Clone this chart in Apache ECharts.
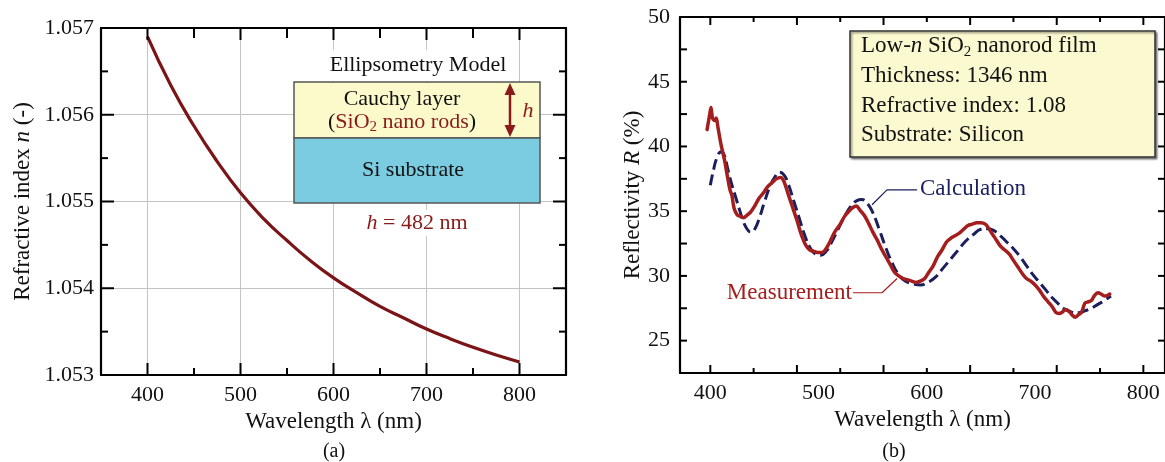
<!DOCTYPE html>
<html>
<head>
<meta charset="utf-8">
<script src="https://cdn.jsdelivr.net/npm/echarts@6/dist/echarts.min.js"></script>
<style>
  html, body { margin: 0; padding: 0; background: #fff; }
  #main { width: 1165px; height: 462px; }
</style>
</head>
<body>
<div id="main"></div>
<script>
// (a) refractive index vs wavelength
const nWavelength = [400, 425, 450, 475, 500, 525, 550, 575, 600, 625, 650, 675, 700, 725, 750, 775, 800];
const nIndex = [1.05690, 1.05634, 1.05587, 1.05546, 1.05510, 1.05480, 1.05455, 1.05432, 1.05412,
  1.05395, 1.05379, 1.05366, 1.05353, 1.05342, 1.05332, 1.05323, 1.05315];

// (b) reflectivity, calculation (dashed)
const calcWavelength = [400, 403, 406, 410, 413, 416, 419, 423, 427, 431, 435, 438, 441, 445, 450, 455, 460, 464,
  468, 472, 477, 482, 487, 492, 497, 502, 507, 512, 518, 524, 530, 535, 540, 545, 550, 556, 562, 568, 574, 580,
  587, 594, 601, 608, 615, 622, 629, 636, 643, 650, 656, 662, 668, 674, 680, 686, 692, 698, 704, 710, 716, 722,
  728, 734, 740, 746, 752, 758, 764, 770];
const calcR = [37.0, 38.2, 39.1, 39.6, 39.3, 38.3, 37.3, 36.2, 35.1, 34.1, 33.5, 33.4, 33.6, 34.4, 35.7, 36.9, 37.7, 38.0,
  37.8, 37.1, 35.8, 34.5, 33.2, 32.2, 31.7, 31.6, 31.9, 32.6, 33.6, 34.6, 35.4, 35.8, 35.9, 35.6, 34.9, 33.6, 32.2, 31.0, 30.1, 29.6,
  29.4, 29.3, 29.5, 29.9, 30.6, 31.3, 32.0, 32.7, 33.2, 33.6, 33.65, 33.5, 33.1, 32.6, 32.1, 31.5, 30.8, 30.1, 29.5, 28.9, 28.3, 27.8,
  27.4, 27.2, 27.15, 27.3, 27.5, 27.8, 28.1, 28.45];

// (b) reflectivity, measurement (solid)
const measWavelength = [397, 399.5, 400.6, 402, 404, 405.5, 407, 410, 413, 416, 418, 420, 422, 425, 428, 431, 434, 437,
  441, 445, 449, 453, 457, 461, 465, 468, 472, 476, 480, 484, 488, 492, 496, 500, 503, 506, 509, 512, 515, 520,
  524, 528, 532, 535, 538, 542, 546, 550, 554, 558, 562, 566, 570, 574, 578, 582, 586, 590, 594, 598, 602, 606,
  610, 614, 618, 622, 626, 630, 634, 638, 642, 646, 650, 654, 657, 660, 664, 668, 672, 676, 680, 684, 688, 692,
  696, 700, 704, 708, 712, 716, 719, 722, 725, 728, 731, 734, 737, 740, 743, 746, 749, 752, 755, 758, 761, 764, 767, 769];
const measR = [41.3, 42.5, 43.0, 42.2, 42.0, 42.2, 41.5, 40.1, 39.0, 37.6, 36.7, 36.2, 35.2, 34.7, 34.6, 34.5, 34.7, 34.9,
  35.4, 36.0, 36.4, 36.9, 37.2, 37.5, 37.6, 37.3, 36.3, 35.3, 34.3, 33.2, 32.4, 32.0, 31.9, 31.8, 31.8, 32.0, 32.4, 32.9, 33.4, 34.0,
  34.6, 35.0, 35.3, 35.4, 35.1, 34.7, 34.1, 33.4, 32.8, 32.1, 31.5, 30.9, 30.3, 30.0, 29.8, 29.7, 29.6, 29.5, 29.6, 29.8, 30.3, 30.8,
  31.5, 32.0, 32.6, 32.9, 33.1, 33.3, 33.6, 33.9, 34.0, 34.1, 34.1, 34.0, 33.7, 33.3, 32.8, 32.3, 32.0, 31.7, 31.2, 30.7, 30.2, 29.8,
  29.6, 29.3, 28.9, 28.4, 28.0, 27.6, 27.2, 27.1, 27.2, 27.4, 27.3, 27.0, 26.8, 27.0, 27.2, 27.9, 28.0, 28.1, 28.5, 28.7, 28.6, 28.45, 28.5, 28.6];

// tick positions (the x ticks of (b) sit every 40 nm, not under the labels)
const aXMajor = [400, 500, 600, 700, 800];
const aXMinor = [450, 550, 650, 750];
const aYMajor = [1.054, 1.055, 1.056];
const aYMinor = [1.0535, 1.0545, 1.0555, 1.0565];
const bXMajor = [400, 480, 560, 640, 720, 800];
const bXMinor = [440, 520, 600, 680, 760];
const bYTicks = [25, 27.5, 30, 32.5, 35, 37.5, 40, 42.5, 45, 47.5];

// leader lines for the curve labels
const calcLeader = [[549.4, 35.5], [563.2, 36.65], [591, 36.65]];
const measLeader = [[531.8, 28.7], [558.6, 28.7], [572.5, 29.8]];

const FONT = '"Liberation Serif", "Times New Roman", serif';
const DARKRED = '#7b1416';
const RED = '#a51e1e';
const NAVY = '#1b1f5e';

const A_X = [350, 850], A_Y = [1.053, 1.057];
const B_X = [372, 820], B_Y = [22.5, 50];

function zip(xs, ys) {
  return xs.map((x, i) => [x, ys[i]]);
}

// side: 0 bottom, 1 top, 2 left, 3 right
function ticksX(vals, yv, len, side) { return vals.map(v => [v, yv, len, side]); }
function ticksY(vals, xv, len, side) { return vals.map(v => [xv, v, len, side]); }

const aTicks = [].concat(
  ticksX(aXMajor, A_Y[0], 12, 0), ticksX(aXMinor, A_Y[0], 7, 0),
  ticksX(aXMajor, A_Y[1], 12, 1), ticksX(aXMinor, A_Y[1], 10, 1),
  ticksY(aYMajor, A_X[0], 13, 2), ticksY(aYMinor, A_X[0], 7, 2),
  ticksY(aYMajor, A_X[1], 13, 3), ticksY(aYMinor, A_X[1], 7, 3)
);
const bTicks = [].concat(
  ticksX(bXMajor, B_Y[0], 8, 0), ticksX(bXMinor, B_Y[0], 5, 0),
  ticksX(bXMajor, B_Y[1], 8, 1), ticksX(bXMinor, B_Y[1], 5, 1),
  ticksY(bYTicks, B_X[0], 7, 2), ticksY(bYTicks, B_X[1], 7, 3)
);

const chart = echarts.init(document.getElementById('main'));

const boxAxis = { show: true, lineStyle: { color: '#000', width: 2.2 } };
const noTick = { show: false };
const lbl = { show: true, color: '#111', fontFamily: FONT, fontSize: 22 };
const nameStyle = {
  color: '#111', fontFamily: FONT, fontSize: 23,
  rich: { i: { fontStyle: 'italic', fontFamily: FONT, fontSize: 23, color: '#111' } }
};

const graphics = [
  // ellipsometry model inset
  { type: 'rect', z: 50, shape: { x: 322, y: 50, width: 194, height: 31 }, style: { fill: '#fff' } },
  { type: 'text', z: 51, x: 418, y: 65, style: { text: 'Ellipsometry Model', font: '22px ' + FONT, fill: '#111', align: 'center', verticalAlign: 'middle' } },
  { type: 'rect', z: 50, shape: { x: 294, y: 82, width: 246, height: 56 }, style: { fill: '#fcf9cb', stroke: '#555', lineWidth: 1.5 } },
  { type: 'rect', z: 50, shape: { x: 294, y: 138, width: 246, height: 65 }, style: { fill: '#7bcce0', stroke: '#555', lineWidth: 1.5 } },
  { type: 'text', z: 51, x: 402, y: 99, style: { text: 'Cauchy layer', font: '22px ' + FONT, fill: '#111', align: 'center', verticalAlign: 'middle' } },
  {
    type: 'text', z: 51, x: 402, y: 122,
    style: {
      text: '{b|(}{r|SiO}{s|2}{r| nano rods}{b|)}', align: 'center', verticalAlign: 'middle',
      rich: {
        b: { fontFamily: FONT, fontSize: 22, fill: '#111', lineHeight: 26 },
        r: { fontFamily: FONT, fontSize: 22, fill: '#8b1a1a', lineHeight: 26 },
        s: { fontFamily: FONT, fontSize: 15, fill: '#8b1a1a', lineHeight: 14, verticalAlign: 'bottom' }
      }
    }
  },
  { type: 'text', z: 51, x: 413, y: 170, style: { text: 'Si substrate', font: '22px ' + FONT, fill: '#111', align: 'center', verticalAlign: 'middle' } },
  { type: 'line', z: 51, shape: { x1: 510, y1: 90, x2: 510, y2: 130 }, style: { stroke: '#8b1a1a', lineWidth: 2.5 } },
  { type: 'polygon', z: 51, shape: { points: [[510, 83], [504.5, 95], [515.5, 95]] }, style: { fill: '#8b1a1a' } },
  { type: 'polygon', z: 51, shape: { points: [[510, 137], [504.5, 125], [515.5, 125]] }, style: { fill: '#8b1a1a' } },
  { type: 'text', z: 51, x: 528, y: 111, style: { text: 'h', font: 'italic 22px ' + FONT, fill: '#8b1a1a', align: 'center', verticalAlign: 'middle' } },
  { type: 'rect', z: 50, shape: { x: 360, y: 210, width: 116, height: 26 }, style: { fill: '#fff' } },
  {
    type: 'text', z: 51, x: 417, y: 223,
    style: {
      text: '{i|h}{r| = 482 nm}', align: 'center', verticalAlign: 'middle',
      rich: {
        i: { fontFamily: FONT, fontSize: 22, fontStyle: 'italic', fill: '#8b1a1a' },
        r: { fontFamily: FONT, fontSize: 22, fill: '#8b1a1a' }
      }
    }
  },
  // info box of (b)
  {
    type: 'rect', z: 50, shape: { x: 850, y: 31, width: 305, height: 126 },
    style: { fill: '#fbf9cf', stroke: '#333', lineWidth: 1.5, shadowBlur: 2, shadowOffsetX: 1.5, shadowOffsetY: 1.5, shadowColor: 'rgba(0,0,0,0.45)' }
  },
  {
    type: 'text', z: 51, x: 861, y: 46,
    style: {
      text: '{r|Low-}{i|n}{r| SiO}{s|2}{r| nanorod film}', verticalAlign: 'middle',
      rich: {
        r: { fontFamily: FONT, fontSize: 23, fill: '#111', lineHeight: 27 },
        i: { fontFamily: FONT, fontSize: 23, fontStyle: 'italic', fill: '#111', lineHeight: 27 },
        s: { fontFamily: FONT, fontSize: 15, fill: '#111', lineHeight: 14, verticalAlign: 'bottom' }
      }
    }
  },
  { type: 'text', z: 51, x: 861, y: 76, style: { text: 'Thickness: 1346 nm', font: '23px ' + FONT, fill: '#111', verticalAlign: 'middle' } },
  { type: 'text', z: 51, x: 861, y: 106, style: { text: 'Refractive index: 1.08', font: '23px ' + FONT, fill: '#111', verticalAlign: 'middle' } },
  { type: 'text', z: 51, x: 861, y: 135, style: { text: 'Substrate: Silicon', font: '23px ' + FONT, fill: '#111', verticalAlign: 'middle' } },
  // curve labels
  { type: 'text', z: 51, x: 920, y: 189, style: { text: 'Calculation', font: '23px ' + FONT, fill: NAVY, verticalAlign: 'middle' } },
  { type: 'text', z: 51, x: 852, y: 293, style: { text: 'Measurement', font: '23px ' + FONT, fill: RED, align: 'right', verticalAlign: 'middle' } },
  // panel captions
  { type: 'text', z: 51, x: 334, y: 452, style: { text: '(a)', font: '20px ' + FONT, fill: '#111', align: 'center', verticalAlign: 'middle' } },
  { type: 'text', z: 51, x: 894, y: 452, style: { text: '(b)', font: '20px ' + FONT, fill: '#111', align: 'center', verticalAlign: 'middle' } }
];

const option = {
  animation: false,
  backgroundColor: '#fff',
  grid: [
    { left: 101, top: 28, width: 465, height: 347 },
    { left: 680, top: 17, width: 485, height: 356 }
  ],
  xAxis: [
    {
      gridIndex: 0, type: 'value', min: A_X[0], max: A_X[1], splitNumber: 5, position: 'bottom',
      axisLine: boxAxis, axisTick: noTick, minorTick: noTick,
      splitLine: { show: true, lineStyle: { color: '#c4c4c4', width: 1 } },
      axisLabel: Object.assign({ margin: 9, showMinLabel: false, showMaxLabel: false }, lbl),
      name: 'Wavelength λ (nm)', nameLocation: 'middle', nameGap: 30, nameTextStyle: nameStyle
    },
    {
      gridIndex: 0, type: 'value', min: A_X[0], max: A_X[1], splitNumber: 5, position: 'top',
      axisLine: boxAxis, axisTick: noTick, minorTick: noTick,
      splitLine: { show: false }, axisLabel: { show: false }
    },
    {
      gridIndex: 1, type: 'value', min: B_X[0], max: B_X[1], splitNumber: 5, position: 'bottom',
      axisLine: boxAxis, axisTick: noTick, minorTick: noTick, splitLine: { show: false },
      axisLabel: Object.assign({ margin: 9, showMinLabel: false, showMaxLabel: false }, lbl),
      name: 'Wavelength λ (nm)', nameLocation: 'middle', nameGap: 33, nameTextStyle: nameStyle
    },
    {
      gridIndex: 1, type: 'value', min: B_X[0], max: B_X[1], splitNumber: 5, position: 'top',
      axisLine: boxAxis, axisTick: noTick, minorTick: noTick,
      splitLine: { show: false }, axisLabel: { show: false }
    }
  ],
  yAxis: [
    {
      gridIndex: 0, type: 'value', min: A_Y[0], max: A_Y[1], interval: 0.001, position: 'left',
      axisLine: boxAxis, axisTick: noTick, minorTick: noTick,
      splitLine: { show: true, lineStyle: { color: '#c4c4c4', width: 1 } },
      axisLabel: Object.assign({ margin: 7, formatter: v => v.toFixed(3) }, lbl),
      name: 'Refractive index {i|n} (-)', nameLocation: 'middle', nameGap: 67, nameTextStyle: nameStyle
    },
    {
      gridIndex: 0, type: 'value', min: A_Y[0], max: A_Y[1], interval: 0.001, position: 'right',
      axisLine: boxAxis, axisTick: noTick, minorTick: noTick,
      splitLine: { show: false }, axisLabel: { show: false }
    },
    {
      gridIndex: 1, type: 'value', min: B_Y[0], max: B_Y[1], interval: 2.5, position: 'left',
      axisLine: boxAxis, axisTick: noTick, minorTick: noTick, splitLine: { show: false },
      axisLabel: Object.assign({ margin: 10, formatter: v => (v % 5 === 0 ? String(v) : '') }, lbl),
      name: 'Reflectivity {i|R} (%)', nameLocation: 'middle', nameGap: 30, nameTextStyle: nameStyle
    },
    {
      gridIndex: 1, type: 'value', min: B_Y[0], max: B_Y[1], interval: 2.5, position: 'right',
      axisLine: boxAxis, axisTick: noTick, minorTick: noTick,
      splitLine: { show: false }, axisLabel: { show: false }
    }
  ],
  series: [
    {
      name: 'index', type: 'line', xAxisIndex: 0, yAxisIndex: 0,
      data: zip(nWavelength, nIndex), smooth: true, symbol: 'none',
      lineStyle: { color: DARKRED, width: 3.2 }
    },
    {
      name: 'Calculation', type: 'line', xAxisIndex: 2, yAxisIndex: 2,
      data: zip(calcWavelength, calcR), smooth: true, symbol: 'none',
      lineStyle: { color: NAVY, width: 3, type: [11, 5] }
    },
    {
      name: 'Measurement', type: 'line', xAxisIndex: 2, yAxisIndex: 2,
      data: zip(measWavelength, measR), smooth: 0.3, symbol: 'none',
      lineStyle: { color: RED, width: 3.5, join: 'round', cap: 'round' }
    },
    {
      name: 'calcLeader', type: 'line', xAxisIndex: 2, yAxisIndex: 2,
      data: calcLeader, symbol: 'none', silent: true,
      lineStyle: { color: NAVY, width: 1.2 }
    },
    {
      name: 'measLeader', type: 'line', xAxisIndex: 2, yAxisIndex: 2,
      data: measLeader, symbol: 'none', silent: true,
      lineStyle: { color: RED, width: 1.2 }
    }
  ],
  graphic: graphics
};

chart.setOption(option);

// tick marks: positions go through the chart's own scales
function tickLines(gridIndex, list) {
  const out = [];
  list.forEach(t => {
    const p = chart.convertToPixel({ gridIndex: gridIndex }, [t[0], t[1]]);
    if (!p || isNaN(p[0]) || isNaN(p[1])) return;
    const d = [[0, -t[2]], [0, t[2]], [t[2], 0], [-t[2], 0]][t[3]];
    out.push({
      type: 'line', z: 40, silent: true,
      shape: { x1: p[0], y1: p[1], x2: p[0] + d[0], y2: p[1] + d[1] },
      style: { stroke: '#000', lineWidth: 2 }
    });
  });
  return out;
}

chart.setOption({ graphic: graphics.concat(tickLines(0, aTicks), tickLines(1, bTicks)) });
</script>
</body>
</html>
